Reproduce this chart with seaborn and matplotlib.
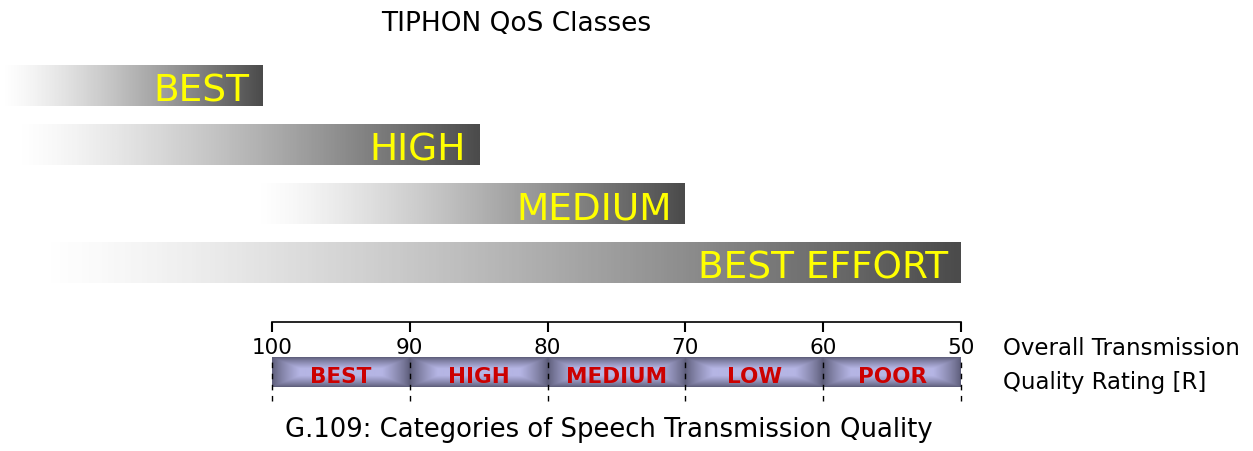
import numpy as np
import matplotlib
matplotlib.use("Agg")
import matplotlib.pyplot as plt
import seaborn as sns

# TIPHON QoS classes: R value where the bar fades in, R value where it ends
tiphon_classes = ["BEST", "HIGH", "MEDIUM", "BEST EFFORT"]
tiphon_start = [119.7, 118.6, 101.2, 117.1]
tiphon_end = [100.7, 85.0, 70.0, 50.0]

# G.109 categories of speech transmission quality
g109_categories = ["BEST", "HIGH", "MEDIUM", "LOW", "POOR"]
g109_upper = [100, 90, 80, 70, 60]
g109_lower = [90, 80, 70, 60, 50]
r_ticks = [100, 90, 80, 70, 60, 50]
r_tick_labels = ["100", "90", "80", "70", "60", "50"]

sns.set_theme(style="white")
plt.rcParams["font.family"] = ["DejaVu Sans"]

W, H = 1253, 452
fig = plt.figure(figsize=(W / 100, H / 100), dpi=100)

# pixel layout of the R scale (100 -> x=272, 50 -> x=961)
px_per_r = (961 - 272) / 50.0
xlim_full = (100 + 272 / px_per_r, 50 - (W - 961) / px_per_r)

grey_cmap = sns.blend_palette(["#ffffff", "#4b4b4b"], as_cmap=True)
band_cmap = sns.blend_palette(["#5c5c78", "#b5b5e4"], as_cmap=True)

# --- TIPHON bars -------------------------------------------------------
ax_top = fig.add_axes([0, (H - 293.5) / H, 1, 236 / H])
ax_top.set_facecolor("none")
grad = (np.linspace(0, 1, 256) ** 1.3)[None, :]
half = 0.34
for i, (name, s, e) in enumerate(zip(tiphon_classes, tiphon_start, tiphon_end)):
    ax_top.imshow(grad, cmap=grey_cmap, vmin=0, vmax=1, aspect="auto",
                  interpolation="bilinear", extent=(s, e, i + half, i - half))
    ax_top.text(e + 0.95, i + 0.254, name, ha="right", va="baseline",
                color="#ffff00", fontsize=27)
ax_top.set_xlim(*xlim_full)
ax_top.set_ylim(3.5, -0.5)
ax_top.axis("off")

# --- G.109 scale -------------------------------------------------------
ax_r = fig.add_axes([272 / W, (H - 405) / H, 689 / W, 82 / H])
ax_r.set_facecolor("none")
band_y0, band_y1 = (405 - 388) / 82, (405 - 358) / 82

u = np.linspace(0, 1, 240)
v = np.linspace(0, 1, 60)
dx = np.minimum(u, 1 - u)[None, :] / 0.2
dy = np.minimum(v, 1 - v)[:, None] / 0.38
pillow = np.clip(np.minimum(dx, dy), 0, 1) ** 0.8

for name, hi, lo in zip(g109_categories, g109_upper, g109_lower):
    ax_r.imshow(pillow, cmap=band_cmap, vmin=0, vmax=1, aspect="auto",
                interpolation="bilinear", extent=(hi, lo, band_y0, band_y1))
    ax_r.text((hi + lo) / 2, (405 - 383) / 82, name, ha="center", va="baseline",
              color="#cc0000", fontsize=15.5, fontweight="bold", zorder=4)

ax_r.vlines(r_ticks, 0.037, band_y1, colors="black", linestyles=(0, (4, 4)),
            lw=1, zorder=3, clip_on=False)

ax_r.set_xlim(100, 50)
ax_r.set_ylim(0, 1)
ax_r.set_xticks(r_ticks)
ax_r.set_xticklabels(r_tick_labels)
ax_r.set_yticks([])
sns.despine(ax=ax_r, top=False, right=True, left=True, bottom=True)
ax_r.spines["top"].set_color("black")
ax_r.spines["top"].set_linewidth(1.2)
ax_r.xaxis.set_ticks_position("top")
ax_r.tick_params(axis="x", direction="in", length=7.5, width=1.5, color="black",
                 labeltop=True, labelbottom=False, pad=-25.5, labelsize=15.5,
                 labelcolor="black")

# --- titles ------------------------------------------------------------
fig.text(516.5 / W, 1 - 31 / H, "TIPHON QoS Classes", ha="center",
         va="baseline", fontsize=19, color="black")
fig.text(609 / W, 1 - 437 / H, "G.109: Categories of Speech Transmission Quality",
         ha="center", va="baseline", fontsize=18.6, color="black")
fig.text(1003 / W, 1 - 355 / H, "Overall Transmission", ha="left",
         va="baseline", fontsize=16.5, color="black")
fig.text(1003 / W, 1 - 389 / H, "Quality Rating [R]", ha="left",
         va="baseline", fontsize=16.5, color="black")

fig.savefig("out.png", dpi=100)
